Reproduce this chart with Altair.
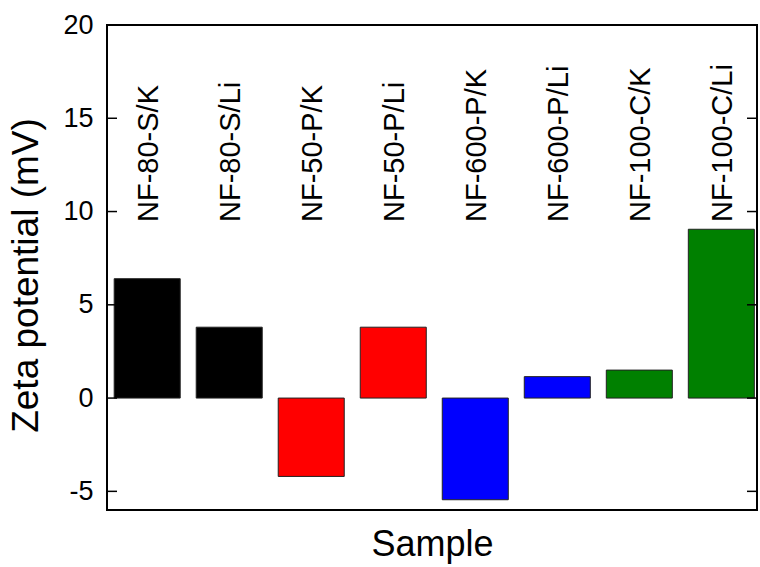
import altair as alt
import pandas as pd

samples = ["NF-80-S/K", "NF-80-S/Li", "NF-50-P/K", "NF-50-P/Li",
           "NF-600-P/K", "NF-600-P/Li", "NF-100-C/K", "NF-100-C/Li"]
zeta = [6.4, 3.8, -4.2, 3.8, -5.45, 1.15, 1.5, 9.05]
colors = ["#000000", "#000000", "#ff0000", "#ff0000",
          "#0000ff", "#0000ff", "#008000", "#008000"]
tick_values = [-5, 0, 5, 10, 15, 20]

df = pd.DataFrame({"sample": samples, "zeta": zeta})
ticks_df = pd.DataFrame({"zeta": tick_values})

FONT = "Liberation Sans"
yscale = alt.Scale(domain=[-6, 20], nice=False, zero=False)
xscale = alt.Scale(domain=samples, paddingInner=0.195, paddingOuter=0.06, align=0.73)
yaxis = alt.Axis(values=tick_values, tickSize=0, domain=False, grid=False,
                 labelExpr="'' + datum.value",
                 labelFont=FONT, labelFontSize=27, labelColor="black",
                 labelPadding=14, title="Zeta potential (mV)",
                 titleFont=FONT, titleFontSize=37, titleFontWeight="normal",
                 titleColor="black", titlePadding=17, titleY=250)

base = alt.Chart(df)

bars = base.mark_bar(stroke="#222222", strokeWidth=1).encode(
    x=alt.X("sample:N", sort=samples, scale=xscale,
            axis=alt.Axis(labels=False, ticks=False, domain=False, title="Sample",
                          titleFont=FONT, titleFontSize=36, titleFontWeight="normal",
                          titleColor="black", titlePadding=17)),
    y=alt.Y("zeta:Q", scale=yscale, axis=yaxis),
    color=alt.Color("sample:N", scale=alt.Scale(domain=samples, range=colors), legend=None),
)

labels = base.mark_text(angle=270, align="left", baseline="middle",
                        font=FONT, fontSize=29, color="black", dy=2).encode(
    x=alt.X("sample:N", sort=samples, scale=xscale),
    y=alt.value(197),
    text="sample:N",
)

left_ticks = alt.Chart(ticks_df).mark_rule(color="black", strokeWidth=1.5).encode(
    y=alt.Y("zeta:Q", scale=yscale, axis=yaxis),
    x=alt.value(0), x2=alt.value(10),
)
right_ticks = alt.Chart(ticks_df).mark_rule(color="black", strokeWidth=1.5).encode(
    y=alt.Y("zeta:Q", scale=yscale, axis=yaxis),
    x=alt.value(640), x2=alt.value(650),
)

chart = alt.layer(bars, labels, left_ticks, right_ticks).properties(
    width=650, height=485,
    autosize=alt.AutoSizeParams(type="none"),
    padding={"left": 107, "top": 25, "right": 3, "bottom": 57},
    background="white",
).configure_view(stroke="black", strokeWidth=2)

chart.save("out.html", embed_options={"renderer": "svg", "actions": False})
